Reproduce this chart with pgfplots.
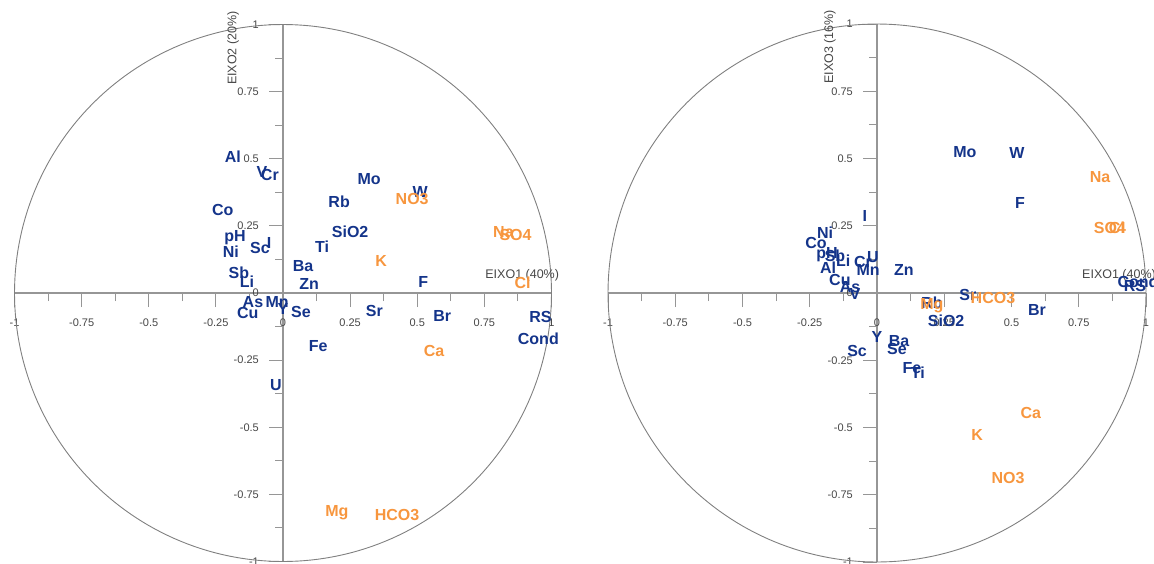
\documentclass[border=0pt]{standalone}
\usepackage{fontspec}
\setmainfont{Liberation Sans}
\usepackage{pgfplots}
\pgfplotsset{compat=1.18}
\definecolor{bl}{RGB}{20,52,138}
\definecolor{orc}{RGB}{247,150,62}
\definecolor{axg}{RGB}{150,150,150}
\definecolor{tkl}{RGB}{70,70,70}
\tikzset{ttl/.style={font=\fontsize{12.5}{15}\selectfont, text=tkl, inner sep=0pt}}
\pgfplotsset{
 corr/.style={
  scale only axis, xmin=-1,xmax=1,ymin=-1,ymax=1,
  axis lines=middle,
  axis line style={draw=axg, line width=1.2pt, -},
  every inner x axis line/.append style={-},
  every inner y axis line/.append style={-},
  tick align=outside, major tick length=14pt, minor tick length=8pt,
  every tick/.style={draw=axg, line width=1pt},
  xtick={-1,-0.75,-0.5,-0.25,0,0.25,0.5,0.75,1},
  ytick={-1,-0.75,-0.5,-0.25,0,0.25,0.5,0.75,1},
  minor tick num=1,
  xticklabels={-1,-0.75,-0.5,-0.25,0,0.25,0.5,0.75,1},
  yticklabels={-1,-0.75,-0.5,-0.25,0,0.25,0.5,0.75,1},
  hide obscured x ticks=false, hide obscured y ticks=false,
  ticklabel style={font=\fontsize{11}{12}\selectfont, text=tkl, inner sep=0pt},
  xticklabel style={anchor=north, yshift=-12pt},
  yticklabel style={anchor=east, xshift=-10pt},
  clip=false,
 },
 circ/.style={draw=axg!85!black, line width=0.9pt, domain=0:360, samples=241},
 lab/.style={only marks, mark=none, nodes near coords, point meta=explicit symbolic,
  nodes near coords align=center,
  every node near coord/.append style={font=\bfseries\fontsize{16}{18}\selectfont,
   text=#1, inner sep=0pt, text height=11.5pt, text depth=0pt, anchor=center}},
}
\begin{document}
\begin{tikzpicture}[x=1pt,y=1pt]
\begin{axis}[corr, width=537pt, height=537pt, at={(14.5pt,-561.5pt)}, anchor=south west]
\addplot[circ] ({cos(x)},{sin(x)});
\addplot[lab=bl] table[x=x,y=y,meta=l] {
x y l
-0.187 0.507 Al
-0.078 0.451 V
-0.049 0.440 Cr
-0.224 0.310 Co
-0.179 0.213 pH
-0.194 0.153 Ni
-0.086 0.168 Sc
-0.052 0.187 I
-0.164 0.075 Sb
-0.134 0.041 Li
-0.112 -0.034 As
-0.022 -0.034 Mn
-0.131 -0.075 Cu
0.000 -0.060 Y
0.067 -0.071 Se
-0.026 -0.340 U
0.321 0.425 Mo
0.209 0.340 Rb
0.511 0.377 W
0.250 0.228 SiO2
0.146 0.172 Ti
0.075 0.101 Ba
0.097 0.034 Zn
0.522 0.041 F
0.340 -0.067 Sr
0.593 -0.086 Br
0.959 -0.090 RS
0.951 -0.172 Cond
0.131 -0.198 Fe
};
\addplot[lab=orc] table[x=x,y=y,meta=l] {
x y l
0.481 0.351 NO3
0.366 0.119 K
0.821 0.228 Na
0.866 0.216 SO4
0.892 0.037 Cl
0.563 -0.216 Ca
0.201 -0.810 Mg
0.425 -0.825 HCO3
};
\node[ttl, rotate=90] at (axis cs:-0.186,0.912) {EIXO2 (20\%)};
\node[ttl, anchor=west] at (axis cs:0.753,0.067) {EIXO1 (40\%)};
\end{axis}
\begin{axis}[corr, width=538pt, height=538pt, at={(608pt,-562pt)}, anchor=south west]
\addplot[circ] ({cos(x)},{sin(x)});
\addplot[lab=bl] table[x=x,y=y,meta=l] {
x y l
0.327 0.524 Mo
0.520 0.520 W
0.532 0.335 F
-0.045 0.286 I
-0.193 0.223 Ni
-0.227 0.186 Co
-0.186 0.149 pH
-0.156 0.138 Sb
-0.126 0.119 Li
-0.182 0.093 Al
-0.052 0.115 Cr
-0.015 0.134 U
-0.033 0.086 Mn
0.100 0.086 Zn
-0.138 0.048 Cu
-0.100 0.022 As
-0.082 -0.004 V
0.000 -0.164 Y
-0.074 -0.216 Sc
0.082 -0.178 Ba
0.074 -0.208 Se
0.130 -0.279 Fe
0.152 -0.297 Ti
0.204 -0.036 Rb
0.257 -0.104 SiO2
0.338 -0.007 Sr
0.595 -0.063 Br
0.970 0.041 Cond
0.959 0.026 RS
};
\addplot[lab=orc] table[x=x,y=y,meta=l] {
x y l
0.829 0.431 Na
0.866 0.242 SO4
0.892 0.242 Cl
0.204 -0.041 Mg
0.431 -0.019 HCO3
0.572 -0.446 Ca
0.372 -0.528 K
0.487 -0.688 NO3
};
\node[ttl, rotate=90] at (axis cs:-0.175,0.915) {EIXO3 (16\%)};
\node[ttl, anchor=west] at (axis cs:0.762,0.067) {EIXO1 (40\%)};
\end{axis}
\pgfresetboundingbox
\useasboundingbox (0,0) rectangle (1154,-563);
\end{tikzpicture}
\end{document}
